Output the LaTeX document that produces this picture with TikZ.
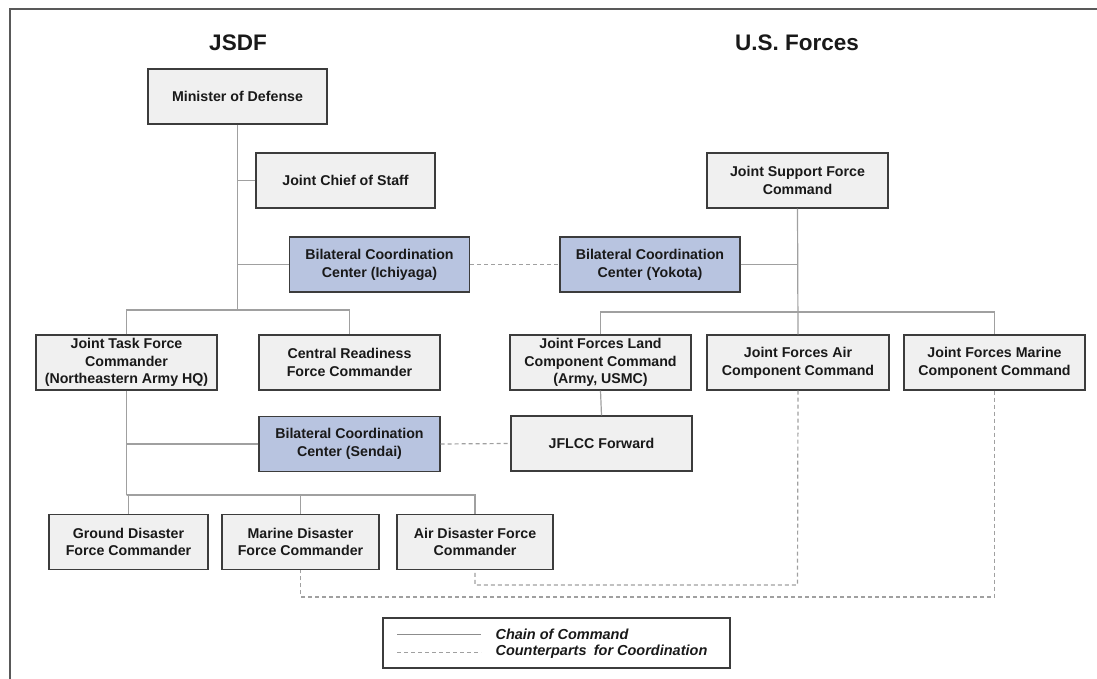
\documentclass[tikz,border=0pt]{standalone}
\usepackage{fontspec}
\setmainfont{Liberation Sans}
\definecolor{boxfill}{RGB}{240,240,240}
\definecolor{bluefill}{RGB}{184,196,224}
\definecolor{boxline}{RGB}{60,60,60}
\definecolor{connline}{RGB}{160,160,160}
\begin{document}
\begin{tikzpicture}[x=1pt,y=-1pt,
  every node/.style={font=\bfseries\fontsize{14.2}{17.8}\selectfont, text=black!90},
  box/.style={draw=boxline, line width=1.1pt, fill=boxfill, align=center, inner sep=0pt, minimum width=180pt, minimum height=55pt},
  bluebox/.style={box, fill=bluefill},
  conn/.style={draw=connline, line width=1.2pt},
  coord/.style={draw=connline, line width=1.2pt, dash pattern=on 4pt off 3pt},
  head/.style={font=\bfseries\fontsize{22.5}{26}\selectfont}
]
\useasboundingbox (0,0) rectangle (1097,679);
% frame
\draw[black!65, line width=1.2pt] (10,679) -- (10,9) -- (1097,9);

% headers
\node[head] (hj) at (238,43) {JSDF};
\node[head] (hu) at (797,43) {U.S. Forces};

% JSDF boxes
\node[box, minimum width=179pt] (mod) at (237.5,96.5) {Minister of Defense};
\node[box, minimum width=179pt] (jcs) at (345.5,180.5) {Joint Chief of Staff};
\node[bluebox] (bci) at (379.5,264.5) {Bilateral Coordination\\Center (Ichiyaga)};
\node[box, minimum width=181pt] (jtf) at (126.5,362.5) {Joint Task Force\\Commander\\(Northeastern Army HQ)};
\node[box, minimum width=181pt] (crf) at (349.5,362.5) {Central Readiness\\Force Commander};
\node[bluebox, minimum width=181pt] (bcs) at (349.5,444) {Bilateral Coordination\\Center (Sendai)};
\node[box, minimum width=159pt, minimum height=55pt] (gdf) at (128.5,542) {Ground Disaster\\Force Commander};
\node[box, minimum width=157pt, minimum height=55pt] (mdf) at (300.5,542) {Marine Disaster\\Force Commander};
\node[box, minimum width=156pt, minimum height=55pt] (adf) at (475,542) {Air Disaster Force\\Commander};

% US boxes
\node[box, minimum width=181pt] (jsf) at (797.5,180.5) {Joint Support Force\\Command};
\node[bluebox] (bcy) at (650,264.5) {Bilateral Coordination\\Center (Yokota)};
\node[box, minimum width=181pt] (jfl) at (600.5,362.5) {Joint Forces Land\\Component Command\\(Army, USMC)};
\node[box, minimum width=182pt] (jfa) at (798,362.5) {Joint Forces Air\\Component Command};
\node[box, minimum width=181pt] (jfm) at (994.5,362.5) {Joint Forces Marine\\Component Command};
\node[box, minimum width=181pt] (jff) at (601.5,443.5) {JFLCC Forward};

% JSDF chain of command
\coordinate (b1) at (237.5,310);
\draw[conn] (mod.south) -- (b1);
\draw[conn] (jcs.west) -- (jcs.west -| mod.south);
\draw[conn] (bci.west) -- (bci.west -| mod.south);
\draw[conn] (jtf.north) |- (b1) -| (crf.north);
\coordinate (b2) at (126.5,495);
\draw[conn] (jtf.south) -- (b2);
\draw[conn] (bcs.west) -- (bcs.west -| jtf.south);
\draw[conn] (gdf.north) |- (b2) -| (mdf.north);
\draw[conn] (b2) -| (adf.north);

% US chain of command
\coordinate (b3) at (797.5,312);
\draw[conn] (jsf.south) -- (jfa.north);
\draw[conn] (bcy.east) -- (bcy.east -| jsf.south);
\draw[conn] (jfl.north) |- (b3) -| (jfm.north);
\draw[conn] (jfl.south) -- (jff.north);

% counterparts
\draw[coord] (bci.east) -- (bcy.west);
\draw[coord] (bcs.east) -- (jff.west);
\coordinate (c1) at (797.5,585);
\coordinate (c2) at (994.5,597);
\draw[coord] (jfa.south) -- (c1) -| (adf.south);
\draw[coord] (jfm.south) -- (c2) -| (mdf.south);

% legend
\node[draw=boxline, line width=1.1pt, fill=white, minimum width=347pt, minimum height=50pt, inner sep=0pt] (leg) at (556.5,643) {};
\coordinate (l1a) at (397,634); \coordinate (l1b) at (481,634);
\coordinate (l2a) at (397,652); \coordinate (l2b) at (481,652);
\draw[conn, line width=0.9pt, draw=gray!90] (l1a) -- (l1b);
\draw[coord, line width=0.9pt] (l2a) -- (l2b);
\node[anchor=west, font=\bfseries\itshape\fontsize{14.5}{17}\selectfont] (lt1) at (492,634) {Chain of Command};
\node[anchor=west, font=\bfseries\itshape\fontsize{14.5}{17}\selectfont] (lt2) at (492,652) {Counterparts\enspace for Coordination};
\end{tikzpicture}
\end{document}
